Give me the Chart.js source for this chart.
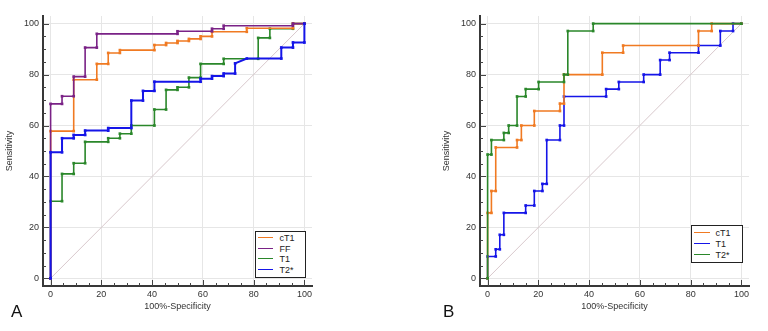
<!DOCTYPE html>
<html>
<head>
<meta charset="utf-8">
<script src="https://cdn.jsdelivr.net/npm/chart.js@4.4.1/dist/chart.umd.min.js"></script>
<style>
  body { margin: 0; background: #fff; font-family: "Liberation Sans", Arial, sans-serif; }
  #wrap { position: relative; width: 768px; height: 331px; overflow: hidden; }
  canvas { position: absolute; top: 0; }
  .letter { position: absolute; font-size: 17px; line-height: 17px; color: #111; }
  .legend { position: absolute; box-sizing: border-box; border: 1.5px solid #222; background: #fff; }
  .legend .row { position: absolute; left: 0; height: 10px; line-height: 10px; font-size: 9px; color: #222; white-space: nowrap; }
  .legend .swatch { position: absolute; top: 4px; height: 0; }
</style>
</head>
<body>
<div id="wrap">
  <canvas id="chartA" width="320" height="331" style="left:0px"></canvas>
  <canvas id="chartB" width="320" height="331" style="left:437px"></canvas>
  <div class="letter" style="left:11px; top:303px">A</div>
  <div class="letter" style="left:443px; top:303px">B</div>
  <div class="legend" id="legendA" style="left:255px; top:231px; width:51px; height:47px"></div>
  <div class="legend" id="legendB" style="left:691px; top:225px; width:52px; height:38px"></div>
</div>
<script>
// axis ticks
const tickValues = [0, 20, 40, 60, 80, 100];
const minorStep = 5;
const diagX = [0, 100];
const diagY = [0, 100];

// Panel A (100%-Specificity vs Sensitivity)
const a_cT1_x = [0, 0, 9.1, 9.1, 18.2, 18.2, 22.7, 22.7, 27.3, 27.3, 40.9, 40.9, 45.5, 45.5, 50, 50, 54.5, 54.5, 59.1, 59.1, 63.6, 63.6, 77.3, 77.3, 95.5, 95.5, 100];
const a_cT1_y = [0, 57.8, 57.8, 78, 78, 84.2, 84.2, 88.5, 88.5, 89.6, 89.6, 91.6, 91.6, 92.4, 92.4, 93.2, 93.2, 94, 94, 95, 95, 96.8, 96.8, 98.2, 98.2, 100, 100];
const a_FF_x = [0, 0, 4.5, 4.5, 9.1, 9.1, 13.6, 13.6, 18.2, 18.2, 50, 50, 63.6, 63.6, 68.2, 68.2, 95.5, 95.5, 100];
const a_FF_y = [0, 68.5, 68.5, 71.5, 71.5, 79.2, 79.2, 90.6, 90.6, 96, 96, 97, 97, 98, 98, 99.2, 99.2, 100, 100];
const a_T1_x = [0, 0, 4.5, 4.5, 9.1, 9.1, 13.6, 13.6, 22.7, 22.7, 27.3, 27.3, 31.8, 31.8, 40.9, 40.9, 45.5, 45.5, 50, 50, 54.5, 54.5, 59.1, 59.1, 68.2, 68.2, 81.8, 81.8, 86.4, 86.4, 95.5, 95.5, 100];
const a_T1_y = [0, 30.3, 30.3, 41, 41, 45.2, 45.2, 53.6, 53.6, 55, 55, 56.8, 56.8, 60, 60, 66.3, 66.3, 74, 74, 75, 75, 78.8, 78.8, 84.2, 84.2, 86.2, 86.2, 94.4, 94.4, 98, 98, 100, 100];
const a_T2s_x = [0, 0, 4.5, 4.5, 9.1, 9.1, 13.6, 13.6, 22.7, 22.7, 31.8, 31.8, 36.4, 36.4, 40.9, 40.9, 59.1, 59.1, 63.6, 63.6, 68.2, 68.2, 72.7, 72.7, 77.3, 90.9, 90.9, 95.5, 95.5, 100, 100];
const a_T2s_y = [0, 49.5, 49.5, 55, 55, 56.3, 56.3, 58, 58, 59, 59, 69.8, 69.8, 73.6, 73.6, 77.2, 77.2, 78.4, 78.4, 79.4, 79.4, 80.4, 80.4, 84.4, 86.3, 86.3, 90.6, 90.6, 92.6, 92.6, 100];

// Panel B
const b_cT1_x = [0, 0, 1.5, 1.5, 3.2, 3.2, 11.6, 11.6, 13.3, 13.3, 18.4, 18.4, 28.5, 28.5, 30.1, 30.1, 45.2, 45.2, 53.4, 53.4, 83.1, 83.1, 88.3, 88.3, 100];
const b_cT1_y = [0, 25.7, 25.7, 34.3, 34.3, 51.4, 51.4, 54.3, 54.3, 60, 60, 65.7, 65.7, 68.6, 68.6, 80, 80, 88.6, 88.6, 91.4, 91.4, 97.1, 97.1, 100, 100];
const b_T1_x = [0, 0, 3.2, 3.2, 4.8, 4.8, 6.4, 6.4, 15, 15, 18.4, 18.4, 21.6, 21.6, 23.3, 23.3, 28.5, 28.5, 30.1, 30.1, 46.7, 46.7, 51.7, 51.7, 61.5, 61.5, 68, 68, 71.7, 71.7, 83.1, 83.1, 91.7, 91.7, 96.7, 96.7, 100];
const b_T1_y = [0, 8.6, 8.6, 11.4, 11.4, 17.1, 17.1, 25.7, 25.7, 28.6, 28.6, 34.3, 34.3, 37.1, 37.1, 54.3, 54.3, 60, 60, 71.4, 71.4, 74.3, 74.3, 77.1, 77.1, 80, 80, 85.7, 85.7, 88.6, 88.6, 91.4, 91.4, 97.1, 97.1, 100, 100];
const b_T2s_x = [0, 0, 1.5, 1.5, 6.4, 6.4, 8.3, 8.3, 11.6, 11.6, 15, 15, 20.1, 20.1, 30.1, 30.1, 31.6, 31.6, 41.6, 41.6, 100];
const b_T2s_y = [0, 48.6, 48.6, 54.3, 54.3, 57.1, 57.1, 60, 60, 71.4, 71.4, 74.3, 74.3, 77.1, 77.1, 80, 80, 97.1, 97.1, 100, 100];

const ORANGE = "#f07a22";
const PURPLE = "#7a2286";
const GREEN = "#2a872a";
const BLUE = "#1515e8";
const DIAG = "#d8c8cc";
const FONT = "'Liberation Sans', Arial, sans-serif";

function zip(xs, ys) {
  return xs.map((x, i) => ({ x: x, y: ys[i] }));
}

function curve(label, xs, ys, color, order, width) {
  return {
    label: label,
    data: zip(xs, ys),
    borderColor: color,
    backgroundColor: color,
    borderWidth: width || 1.6,
    pointStyle: "rect",
    pointRadius: 1.9,
    pointBorderWidth: 0,
    pointBackgroundColor: color,
    order: order,
  };
}

// little inward tick marks on both axes, like the original
const innerTicks = {
  id: "innerTicks",
  afterDraw(chart) {
    const ctx = chart.ctx;
    const xs = chart.scales.x, ys = chart.scales.y;
    const area = chart.chartArea;
    ctx.save();
    ctx.strokeStyle = "#444";
    ctx.lineWidth = 1;
    for (let v = 0; v <= 100; v += minorStep) {
      const len = v % 20 === 0 ? 6 : 3;
      const py = Math.round(ys.getPixelForValue(v)) + 0.5;
      ctx.beginPath();
      ctx.moveTo(area.left, py);
      ctx.lineTo(area.left + len, py);
      ctx.stroke();
      const px = Math.round(xs.getPixelForValue(v)) + 0.5;
      ctx.beginPath();
      ctx.moveTo(px, area.bottom);
      ctx.lineTo(px, area.bottom - len);
      ctx.stroke();
    }
    ctx.restore();
  },
};

function makeChart(id, datasets) {
  const axis = (title, isY) => ({
    type: "linear",
    min: -3,
    max: 103,
    afterBuildTicks: (s) => { s.ticks = tickValues.map(v => ({ value: v })); },
    afterFit: (s) => { if (isY) s.width = 43; else s.height = 45; },
    grid: { color: "#e6e6e6", lineWidth: 1, drawTicks: false },
    border: { display: true, color: "#383838", width: 2 },
    ticks: { font: { family: FONT, size: 9 }, color: "#333", padding: isY ? 4 : 3 },
    title: {
      display: true,
      text: title,
      color: "#333",
      font: { family: FONT, size: 9 },
      padding: isY ? { top: 4.6, bottom: 0 } : { top: 0, bottom: 19 },
    },
  });
  return new Chart(document.getElementById(id).getContext("2d"), {
    type: "line",
    data: {
      datasets: [
        { label: "diag", data: zip(diagX, diagY), borderColor: DIAG, borderWidth: 1, pointRadius: 0, order: 10 },
      ].concat(datasets),
    },
    options: {
      responsive: false,
      animation: false,
      layout: { padding: { left: 0, top: 16, right: 8, bottom: 0 } },
      plugins: { legend: { display: false }, tooltip: { enabled: false } },
      scales: { x: axis("100%-Specificity", false), y: axis("Sensitivity", true) },
    },
    plugins: [innerTicks],
  });
}

makeChart("chartA", [
  curve("cT1", a_cT1_x, a_cT1_y, ORANGE, 4),
  curve("FF", a_FF_x, a_FF_y, PURPLE, 3),
  curve("T1", a_T1_x, a_T1_y, GREEN, 5),
  curve("T2*", a_T2s_x, a_T2s_y, BLUE, 1, 2),
]);

makeChart("chartB", [
  curve("cT1", b_cT1_x, b_cT1_y, ORANGE, 2),
  curve("T1", b_T1_x, b_T1_y, BLUE, 3),
  curve("T2*", b_T2s_x, b_T2s_y, GREEN, 1),
]);

// legends drawn as boxes inside the plots
function buildLegend(id, labels, colors, firstCenter, spacing, lineLeft, lineWidth, textLeft) {
  const box = document.getElementById(id);
  labels.forEach((lab, i) => {
    const row = document.createElement("div");
    row.className = "row";
    row.style.top = Math.round(firstCenter + i * spacing - 5 - 1.5) + "px";
    const sw = document.createElement("span");
    sw.className = "swatch";
    sw.style.left = lineLeft + "px";
    sw.style.width = lineWidth + "px";
    sw.style.borderTop = "1px solid " + colors[i];
    const tx = document.createElement("span");
    tx.style.position = "absolute";
    tx.style.left = textLeft + "px";
    tx.textContent = lab;
    row.appendChild(sw);
    row.appendChild(tx);
    box.appendChild(row);
  });
}

buildLegend("legendA", ["cT1", "FF", "T1", "T2*"], [ORANGE, PURPLE, GREEN, BLUE], 7.5, 10.5, 2, 15, 23.5);
buildLegend("legendB", ["cT1", "T1", "T2*"], [ORANGE, BLUE, GREEN], 8, 11, 2, 16, 23.5);
</script>
</body>
</html>
